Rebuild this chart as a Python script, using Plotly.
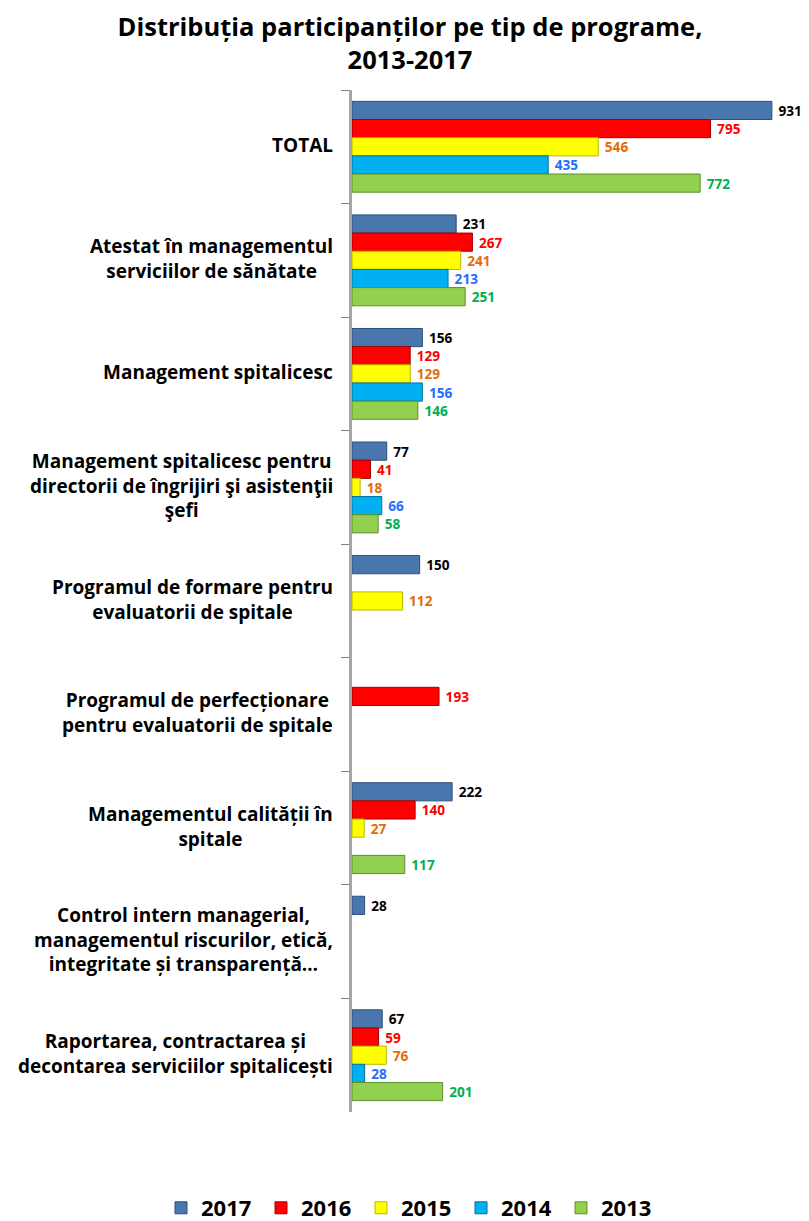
import plotly.graph_objects as go

categories = [
    "TOTAL",
    "Atestat în managementul<br>serviciilor de sănătate",
    "Management spitalicesc",
    "Management spitalicesc pentru<br>directorii de îngrijiri şi asistenţii<br>şefi",
    "Programul de formare pentru<br>evaluatorii de spitale",
    "Programul de perfecționare<br>pentru evaluatorii de spitale",
    "Managementul calității în<br>spitale",
    "Control intern managerial,<br>managementul riscurilor, etică,<br>integritate și transparență…",
    "Raportarea, contractarea și<br>decontarea serviciilor spitalicești",
]

years = ["2017", "2016", "2015", "2014", "2013"]
v2017 = [931, 231, 156, 77, 150, None, 222, 28, 67]
v2016 = [795, 267, 129, 41, None, 193, 140, None, 59]
v2015 = [546, 241, 129, 18, 112, None, 27, None, 76]
v2014 = [435, 213, 156, 66, None, None, None, None, 28]
v2013 = [772, 251, 146, 58, None, None, 117, None, 201]
series = [v2017, v2016, v2015, v2014, v2013]

bar_colors = ["#4A76AE", "#FF0000", "#FFFF00", "#00B0F0", "#92D050"]
label_colors = ["#000000", "#FF0000", "#E36C09", "#1F6FFF", "#00B050"]
line_colors = ["#2E4F7A", "#A00000", "#B8B800", "#00739E", "#5E8F2C"]

FONT = "Open Sans, Liberation Sans, sans-serif"

# page body has an 8px margin: figure is offset to compensate; the figure is a bit
# taller than the visible window so the legend has room without pushing margins
W, H = 801, 1235
ML, MR, MT = 344, 6, 82
PLOT_BOTTOM = 1104
MB = H - PLOT_BOTTOM
PW, PH = W - ML - MR, H - MT - MB

fig = go.Figure()
for name, vals, bc, lc, edge in zip(years, series, bar_colors, label_colors, line_colors):
    fig.add_trace(go.Bar(
        name=name,
        y=categories,
        x=vals,
        orientation="h",
        marker=dict(color=bc, line=dict(color=edge, width=1)),
        text=[None if v is None else f" {v}" for v in vals],
        textposition="outside",
        textfont=dict(family=FONT, size=15, color=lc, weight="bold"),
        cliponaxis=False,
    ))

for cat in categories:
    fig.add_annotation(
        x=0, xref="paper", y=cat, yref="y",
        text=f"<b>{cat}</b>", showarrow=False,
        xanchor="right", yanchor="middle", align="center",
        xshift=-17, yshift=2,
        font=dict(family=FONT, size=19, color="#000000"),
    )

fig.update_layout(
    width=W, height=H,
    paper_bgcolor="white", plot_bgcolor="white",
    barmode="group", bargap=0.2, bargroupgap=0.0,
    margin=dict(l=ML, r=MR, t=MT, b=MB),
    title=dict(
        text="<b>Distribuția participanților pe tip de programe,<br>2013-2017</b>",
        x=402 / W, xref="container", xanchor="center",
        y=1 - 28 / H, yref="container", yanchor="middle",
        font=dict(family=FONT, size=25.5, color="#000000"),
    ),
    xaxis=dict(range=[0, 1000], showgrid=False, zeroline=False,
               showticklabels=False, showline=False, ticks=""),
    yaxis=dict(autorange="reversed", showgrid=False, showticklabels=False,
               showline=True, linecolor="#A6A6A6", linewidth=3,
               ticks="outside", tickson="boundaries", ticklen=8,
               tickcolor="#808080", tickwidth=1),
    showlegend=True,
    legend=dict(
        orientation="h", xref="paper", yref="paper",
        x=(153 - ML) / PW, xanchor="left",
        y=-(1200 - PLOT_BOTTOM) / PH, yanchor="middle",
        font=dict(family=FONT, size=22, color="#000000", weight="bold"),
        entrywidth=55, entrywidthmode="pixels", traceorder="normal",
    ),
)

fig.write_html("out.html")
